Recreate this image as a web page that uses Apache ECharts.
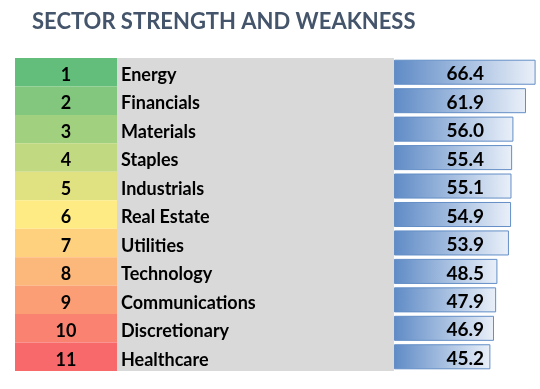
<!DOCTYPE html>
<html>
<head>
<meta charset="utf-8">
<script src="https://cdn.jsdelivr.net/npm/echarts@6/dist/echarts.min.js"></script>
<style>html,body{margin:0;padding:0;background:#fff;}#c{width:540px;height:389px;}</style>
</head>
<body>
<div id="c"></div>
<script>
var titleText = 'SECTOR STRENGTH AND WEAKNESS';
var ranks = ['1','2','3','4','5','6','7','8','9','10','11'];
var sectors = ['Energy','Financials','Materials','Staples','Industrials','Real Estate','Utilities','Technology','Communications','Discretionary','Healthcare'];
var scores = [66.4, 61.9, 56.0, 55.4, 55.1, 54.9, 53.9, 48.5, 47.9, 46.9, 45.2];
var rankColors = ['#63BE7B','#82C77D','#A1D07F','#C1D980','#E0E282','#FFEB84','#FED17F','#FCB77A','#FB9D75','#F98370','#F8696B'];

var FONT = 'Lato';
var TOP = 58, HEIGHT = 313;
var chart = echarts.init(document.getElementById('c'), null, {renderer: 'canvas'});
function hiddenX(i, max) {
  return {gridIndex: i, type: 'value', min: 0, max: max, show: false};
}
var cellText = {t: {padding: [6, 0, 0, 0], fontFamily: FONT, fontWeight: 'bold', fontSize: 18, color: '#000'}};
function cellFmt(v) { return '{t|' + v + '}'; }
chart.setOption({
  animation: false,
  backgroundColor: '#fff',
  title: {
    text: titleText, left: 27, top: 6,
    textStyle: {fontFamily: FONT, fontWeight: 'bold', fontSize: 22, color: '#44546A'}
  },
  grid: [
    {left: 15, top: TOP, width: 102, height: HEIGHT, containLabel: false},
    {left: 117, top: TOP, width: 277, height: HEIGHT, show: true, backgroundColor: '#D9D9D9', borderWidth: 0},
    {left: 394, top: TOP, width: 145, height: HEIGHT}
  ],
  xAxis: [hiddenX(0, 1), hiddenX(1, 1), hiddenX(2, 68)],
  yAxis: [
    {
      gridIndex: 0, type: 'category', data: ranks, inverse: true,
      axisLine: {show: false}, axisTick: {show: false},
      splitArea: {show: true, areaStyle: {color: rankColors, opacity: 1}},
      axisLabel: {inside: true, align: 'center', margin: 51, formatter: cellFmt, rich: cellText}
    },
    {
      gridIndex: 1, type: 'category', data: sectors, inverse: true,
      axisLine: {show: false}, axisTick: {show: false},
      axisLabel: {inside: true, margin: 4, formatter: cellFmt, rich: cellText}
    },
    {
      gridIndex: 2, type: 'category', data: sectors, inverse: true, show: false
    }
  ],
  series: [{
    type: 'bar', xAxisIndex: 2, yAxisIndex: 2,
    data: scores,
    barCategoryGap: '12%',
    itemStyle: {
      color: new echarts.graphic.LinearGradient(0, 0, 1, 0, [
        {offset: 0, color: '#5F8BC6'},
        {offset: 1, color: '#EAF0F9'}
      ]),
      borderColor: '#638EC6', borderWidth: 1
    },
    label: {
      show: true, position: [90, '50%'], align: 'right', verticalAlign: 'middle', offset: [0, 2],
      formatter: function (p) { return p.value.toFixed(1); },
      fontFamily: FONT, fontWeight: 'bold', fontSize: 19, color: '#000'
    }
  }]
});
</script>
</body>
</html>
